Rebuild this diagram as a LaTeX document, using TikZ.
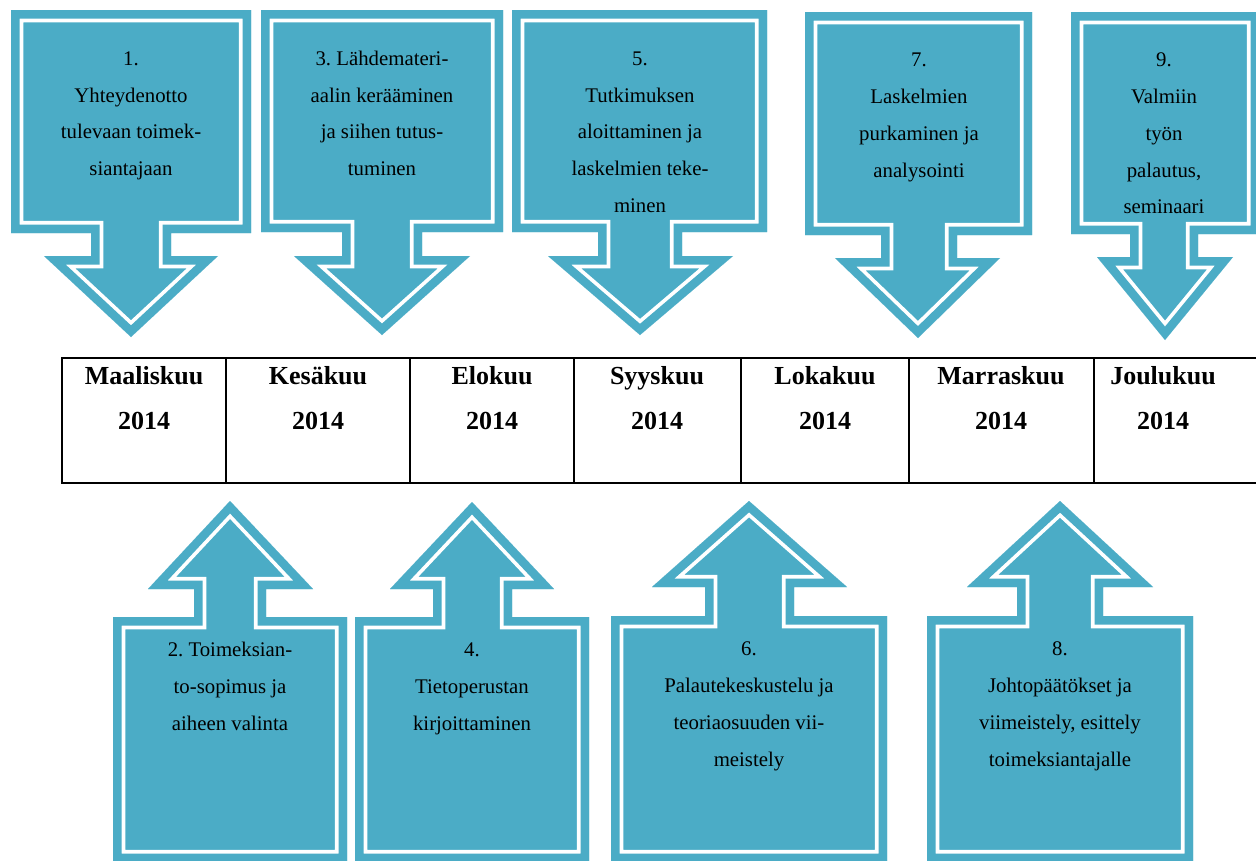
\documentclass[tikz,border=0pt]{standalone}
\usepackage{fontspec}
\setmainfont{Liberation Serif}
\frenchspacing
\definecolor{callblue}{HTML}{4BACC6}
\tikzset{
  boxtext/.style={anchor=north, inner sep=0pt, align=center, text=black,
    font=\fontsize{20.8}{36.8}\selectfont\frenchspacing},
  monthtext/.style={anchor=base, inner sep=0pt, font=\fontsize{26}{30}\selectfont\bfseries},
  tableline/.style={line width=2pt, black},
}
\newcommand{\calloutshape}[1]{%
  \fill[callblue] #1;
  \begin{scope}
    \clip #1;
    \draw[white, line width=24.5pt, line join=miter] #1;
    \draw[callblue, line width=17pt, line join=miter] #1;
  \end{scope}}
\begin{document}
\begin{tikzpicture}[x=1pt, y=-1pt]
\useasboundingbox (0,0) rectangle (1256,860);
% down callouts
\calloutshape{(11,10) -- (251,10) -- (251,233) -- (171,233) -- (171,256) -- (218,256) -- (131,337) -- (44,256) -- (91,256) -- (91,233) -- (11,233) -- cycle}
\calloutshape{(261,10) -- (503,10) -- (503,232) -- (422,232) -- (422,256) -- (470,256) -- (382,335) -- (294,256) -- (342,256) -- (342,232) -- (261,232) -- cycle}
\calloutshape{(512,10) -- (767,10) -- (767,232) -- (682,232) -- (682,256) -- (733,256) -- (640,335) -- (548,256) -- (598,256) -- (598,232) -- (512,232) -- cycle}
\calloutshape{(805,12) -- (1032,12) -- (1032,235) -- (957,235) -- (957,258) -- (1000,258) -- (918,338) -- (835,258) -- (881,258) -- (881,235) -- (805,235) -- cycle}
\calloutshape{(1071,12) -- (1259,12) -- (1259,234) -- (1198,234) -- (1198,257) -- (1233,257) -- (1165,340) -- (1097,257) -- (1130,257) -- (1130,234) -- (1071,234) -- cycle}
% up callouts
\calloutshape{(113,862) -- (347,862) -- (347,617) -- (266,617) -- (266,589) -- (313,589) -- (230,501) -- (148,589) -- (194,589) -- (194,617) -- (113,617) -- cycle}
\calloutshape{(355,862) -- (589,862) -- (589,617) -- (512,617) -- (512,589) -- (554,589) -- (472,502) -- (390,589) -- (433,589) -- (433,617) -- (355,617) -- cycle}
\calloutshape{(611,862) -- (887,862) -- (887,616) -- (794,616) -- (794,587) -- (847,587) -- (749,501) -- (652,587) -- (705,587) -- (705,616) -- (611,616) -- cycle}
\calloutshape{(927,862) -- (1193,862) -- (1193,616) -- (1103,616) -- (1103,587) -- (1153,587) -- (1060,501) -- (967,587) -- (1017,587) -- (1017,616) -- (927,616) -- cycle}
% texts in callouts
\node[boxtext] (t1) at (131,45) {\rule{0pt}{20pt}1.\\Yhteydenotto\\tulevaan toimek-\\siantajaan};
\node[boxtext] (t3) at (382,45) {\rule{0pt}{20pt}3. Lähdemateri-\\aalin kerääminen\\ja siihen tutus-\\tuminen};
\node[boxtext] (t5) at (640,45) {\rule{0pt}{20pt}5.\\Tutkimuksen\\aloittaminen ja\\laskelmien teke-\\minen};
\node[boxtext] (t7) at (919,46.5) {\rule{0pt}{20pt}7.\\Laskelmien\\purkaminen ja\\analysointi};
\node[boxtext] (t9) at (1164,46.5) {\rule{0pt}{20pt}9.\\Valmiin\\työn\\palautus,\\seminaari};
\node[boxtext] (t2) at (230,636.5) {\rule{0pt}{20pt}2. Toimeksian-\\to-sopimus ja\\aiheen valinta};
\node[boxtext] (t4) at (472,636.5) {\rule{0pt}{20pt}4.\\Tietoperustan\\kirjoittaminen};
\node[boxtext] (t6) at (749,635.5) {\rule{0pt}{20pt}6.\\Palautekeskustelu ja\\teoriaosuuden vii-\\meistely};
\node[boxtext] (t8) at (1060,635.5) {\rule{0pt}{20pt}8.\\Johtopäätökset ja\\viimeistely, esittely\\toimeksiantajalle};
% table
\draw[tableline] (62,358) -- (1256,358);
\draw[tableline] (62,483) -- (1256,483);
\foreach \x in {62,226,410,574,741,909,1094} {\draw[tableline] (\x,357) -- (\x,484);}
\node[monthtext] (m1) at (144,384) {Maaliskuu};
\node[monthtext] (y1) at (144,429) {2014};
\node[monthtext] (m2) at (318,384) {Kesäkuu};
\node[monthtext] (y2) at (318,429) {2014};
\node[monthtext] (m3) at (492,384) {Elokuu};
\node[monthtext] (y3) at (492,429) {2014};
\node[monthtext] (m4) at (657,384) {Syyskuu};
\node[monthtext] (y4) at (657,429) {2014};
\node[monthtext] (m5) at (825,384) {Lokakuu};
\node[monthtext] (y5) at (825,429) {2014};
\node[monthtext] (m6) at (1001,384) {Marraskuu};
\node[monthtext] (y6) at (1001,429) {2014};
\node[monthtext] (m7) at (1163,384) {Joulukuu};
\node[monthtext] (y7) at (1163,429) {2014};
\end{tikzpicture}
\end{document}
